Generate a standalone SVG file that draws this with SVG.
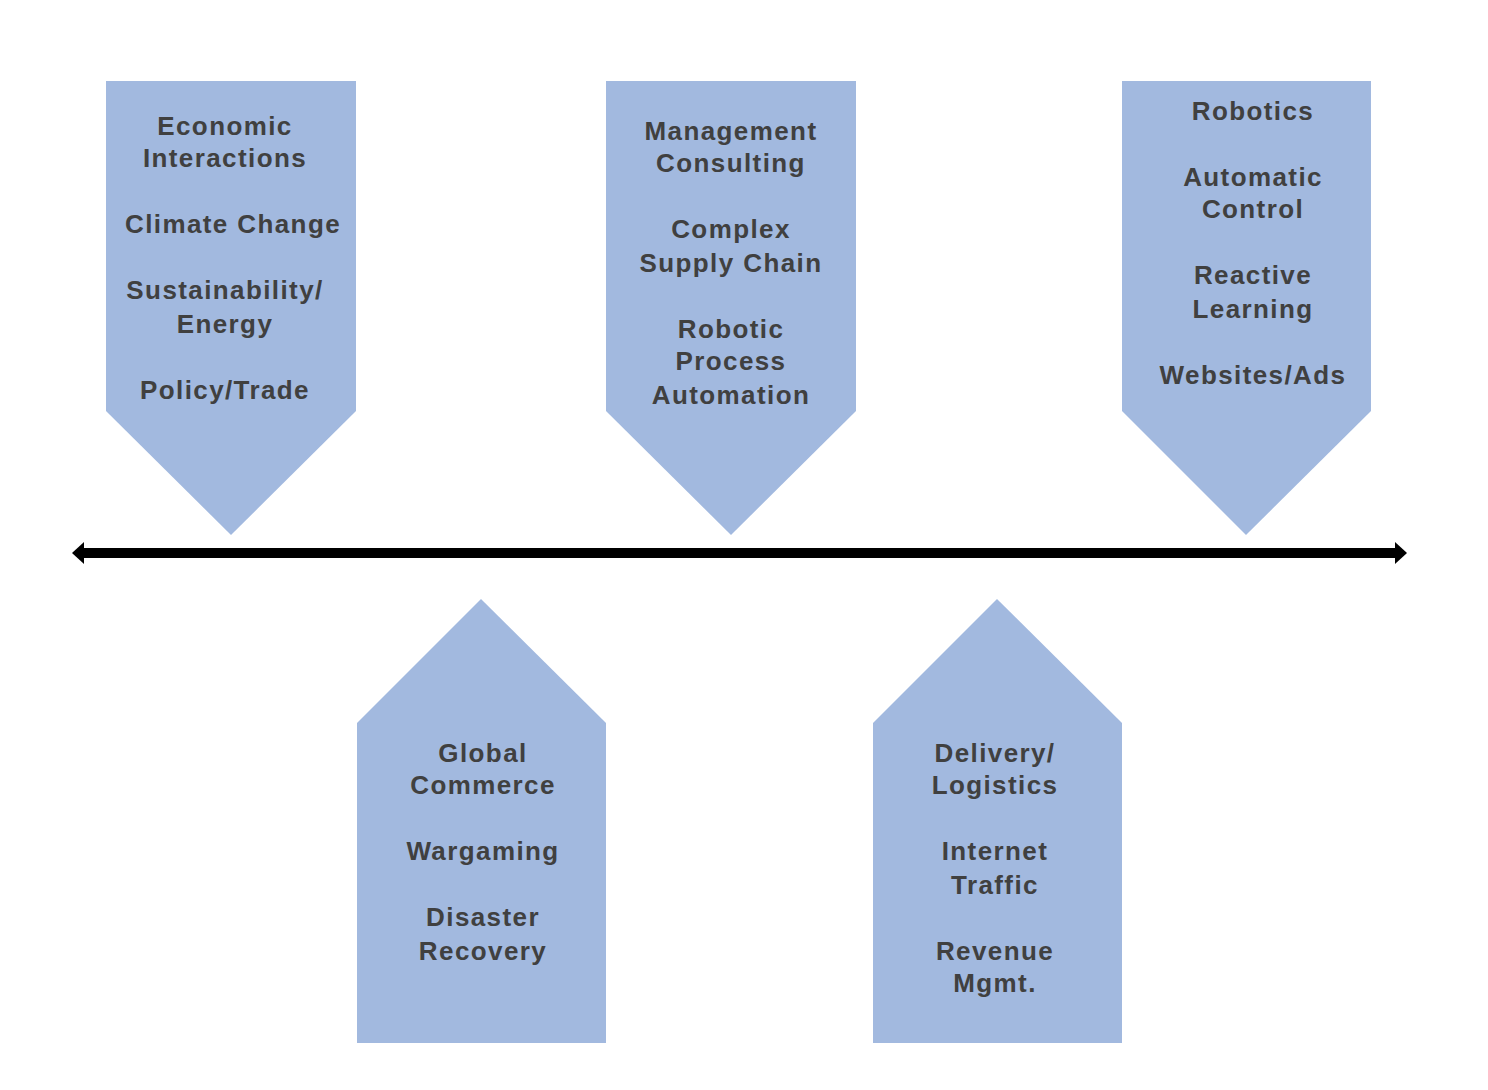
<svg xmlns="http://www.w3.org/2000/svg" width="1488" height="1090" viewBox="0 0 1488 1090">
<style>
.shape{fill:#A2B9DF;stroke:none}
.t{font-family:"Liberation Sans",Arial,sans-serif;font-weight:bold;font-size:26px;letter-spacing:1.4px;fill:#404040;text-anchor:middle}
</style>
<rect width="1488" height="1090" fill="#ffffff"/>
<g id="connectors">
<rect x="82" y="548" width="1315" height="10" fill="#000"/>
<polygon points="72,553 84,542 84,564" fill="#000"/>
<polygon points="1407,553 1395,542 1395,564" fill="#000"/>
</g>
<g id="node-economic">
<polygon class="shape" points="106,81 356,81 356,411 231,535 106,411"/>
<text class="t" x="225" y="135">Economic</text>
<text class="t" x="225" y="167">Interactions</text>
<text class="t" x="233" y="233">Climate Change</text>
<text class="t" x="225" y="299">Sustainability/</text>
<text class="t" x="225" y="333">Energy</text>
<text class="t" x="225" y="399">Policy/Trade</text>
</g>
<g id="node-management">
<polygon class="shape" points="606,81 856,81 856,411 731,535 606,411"/>
<text class="t" x="731" y="140">Management</text>
<text class="t" x="731" y="172">Consulting</text>
<text class="t" x="731" y="238">Complex</text>
<text class="t" x="731" y="272">Supply Chain</text>
<text class="t" x="731" y="338">Robotic</text>
<text class="t" x="731" y="370">Process</text>
<text class="t" x="731" y="404">Automation</text>
</g>
<g id="node-robotics">
<polygon class="shape" points="1122,81 1371,81 1371,411 1246,535 1122,411"/>
<text class="t" x="1253" y="120">Robotics</text>
<text class="t" x="1253" y="186">Automatic</text>
<text class="t" x="1253" y="218">Control</text>
<text class="t" x="1253" y="284">Reactive</text>
<text class="t" x="1253" y="318">Learning</text>
<text class="t" x="1253" y="384">Websites/Ads</text>
</g>
<g id="node-global">
<polygon class="shape" points="481,599 606,723 606,1043 357,1043 357,723"/>
<text class="t" x="483" y="762">Global</text>
<text class="t" x="483" y="794">Commerce</text>
<text class="t" x="483" y="860">Wargaming</text>
<text class="t" x="483" y="926">Disaster</text>
<text class="t" x="483" y="960">Recovery</text>
</g>
<g id="node-delivery">
<polygon class="shape" points="997,599 1122,723 1122,1043 873,1043 873,723"/>
<text class="t" x="995" y="762">Delivery/</text>
<text class="t" x="995" y="794">Logistics</text>
<text class="t" x="995" y="860">Internet</text>
<text class="t" x="995" y="894">Traffic</text>
<text class="t" x="995" y="960">Revenue</text>
<text class="t" x="995" y="992">Mgmt.</text>
</g>
</svg>
